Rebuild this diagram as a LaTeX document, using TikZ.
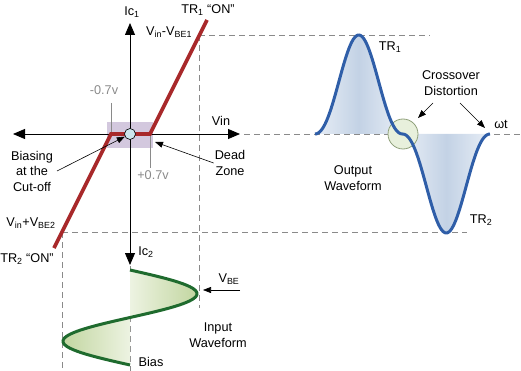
\documentclass[tikz,border=0pt]{standalone}
\usepackage{fontspec}
\setmainfont{Liberation Sans}
\usetikzlibrary{arrows.meta}
\definecolor{redline}{HTML}{A8282A}
\definecolor{boxpurple}{HTML}{D3C8DE}
\definecolor{dotblue}{HTML}{CDE6EE}
\definecolor{dashgray}{HTML}{8A8A8A}
\definecolor{greenline}{HTML}{1F6B2E}
\definecolor{greenfill}{HTML}{C2D6A0}
\definecolor{greenlight}{HTML}{EDF3E2}
\definecolor{blueline}{HTML}{2F5EA8}
\definecolor{bluefill}{HTML}{C3D2E5}
\definecolor{bluelight}{HTML}{E8EEF6}
\definecolor{circfill}{HTML}{E8F0DC}
\definecolor{circline}{HTML}{8FA07A}
\begin{document}
\begin{tikzpicture}[x=1pt,y=-1pt,
  lbl/.style={font=\fontsize{12.7}{15.5}\selectfont, inner sep=0pt, align=center},
  glbl/.style={lbl, text=dashgray},
  axis/.style={black, line width=0.8pt, -{Triangle[length=12pt,width=10pt]}},
  guide/.style={dashgray, line width=0.8pt, dash pattern=on 6pt off 4pt},
  tick/.style={dashgray, line width=0.7pt},
  pointer/.style={black, line width=0.6pt, -{Triangle[length=8pt,width=6pt]}},
  declare function={gx(\t)=130+67*sin((\t-270)/47.5*180);
    ang(\x)=(\x-315)/175*360;
    by(\x)=134-99*sin(ang(\x))*abs(sin(ang(\x)))*(0.7+0.3*abs(sin(ang(\x))));},
]
\useasboundingbox (0,0) rectangle (521,371);

% dashed guides
\draw[guide] (199,35) -- (430,35);
\draw[guide] (199,35) -- (199,308);
\draw[guide] (244,134) -- (521,134);
\draw[guide] (62,232) -- (467,232);
\draw[guide] (62,232) -- (62,371);
\draw[guide] (130,266) -- (130,371);

% dead zone box
\fill[boxpurple] (107,122) rectangle (153,148);

% axes
\coordinate (o) at (130,134);
\coordinate (ytop) at (130,23);
\coordinate (ybot) at (130,265);
\coordinate (xleft) at (13,134);
\coordinate (xright) at (240,134);
\draw[axis] (o) -- (ytop);
\draw[axis] (o) -- (ybot);
\draw[axis] (o) -- (xleft);
\draw[axis] (o) -- (xright);

% ticks
\draw[tick] (111,103) -- (111,134);
\draw[tick] (150,134) -- (150,168);

% transfer characteristic
\draw[redline, line width=3.6pt] (54,248) -- (111,134) -- (150,134) -- (207,20);
\node[circle, draw=black, fill=dotblue, line width=0.6pt, minimum size=11pt, inner sep=0pt] (dot) at (o) {};

% input waveform
\shade[left color=greenlight, right color=greenfill] (130,270) -- plot[domain=270:317.5, samples=40, variable=\t] ({gx(\t)}, \t) -- cycle;
\shade[left color=greenfill, right color=greenlight] (130,317.5) -- plot[domain=317.5:365, samples=40, variable=\t] ({gx(\t)}, \t) -- cycle;
\draw[greenline, line width=3pt] plot[domain=270:365, samples=80, variable=\t] ({gx(\t)}, \t);

% output waveform
\shade[left color=bluelight, right color=bluelight, middle color=bluefill] (315,134) -- plot[domain=315:402.5, samples=60, variable=\x] (\x, {by(\x)}) -- cycle;
\shade[left color=bluelight, right color=bluelight, middle color=bluefill] (402.5,134) -- plot[domain=402.5:490, samples=60, variable=\x] (\x, {by(\x)}) -- cycle;
\node[circle, draw=circline, fill=circfill, line width=0.8pt, minimum size=30pt, inner sep=0pt] (xo) at (403,134) {};
\draw[blueline, line width=3pt] plot[domain=315:490, samples=120, variable=\x] (\x, {by(\x)});

% labels
\node[lbl] (ic1) at (132,12) {Ic\textsubscript{1}};
\node[lbl] (tr1on) at (208,10) {TR\textsubscript{1} “ON”};
\node[lbl] (vbe1) at (169,32) {V\textsubscript{in}-V\textsubscript{BE1}};
\node[glbl] (m07) at (104,90) {-0.7v};
\node[lbl] (vin) at (221,121) {Vin};
\node[lbl] (bias) at (32,171) {Biasing\\at the\\Cut-off};
\node[glbl] (p07) at (153,175) {+0.7v};
\node[lbl] (dead) at (230,163) {Dead\\Zone};
\node[lbl] (vbe2) at (31,223) {V\textsubscript{in}+V\textsubscript{BE2}};
\node[lbl] (tr2on) at (27,259) {TR\textsubscript{2} “ON”};
\node[lbl] (ic2) at (146,252) {Ic\textsubscript{2}};
\node[lbl] (vbe) at (229,279) {V\textsubscript{BE}};
\node[lbl] (input) at (218,335) {Input\\Waveform};
\node[lbl] (biaslbl) at (151,362) {Bias};
\node[lbl] (tr1) at (390,47) {TR\textsubscript{1}};
\node[lbl] (cross) at (451,83) {Crossover\\Distortion};
\node[lbl] (wt) at (501,124) {ωt};
\node[lbl] (out) at (353,178) {Output\\Waveform};
\node[lbl] (tr2) at (481,220) {TR\textsubscript{2}};

% pointers
\coordinate (dzpt) at (155,142);
\coordinate (vbetail) at (240,290);
\coordinate (vbetip) at (203,290);
\coordinate (c1a) at (433,103);
\coordinate (c1b) at (418,118);
\coordinate (c2a) at (460,103);
\coordinate (c2b) at (485,128);
\draw[pointer] ([xshift=4pt]bias.east) -- (dot);
\draw[pointer] ([xshift=-1pt]dead.west) -- (dzpt);
\draw[pointer] (vbetail) -- (vbetip);
\draw[pointer] (c1a) -- (c1b);
\draw[pointer] (c2a) -- (c2b);
\end{tikzpicture}
\end{document}
